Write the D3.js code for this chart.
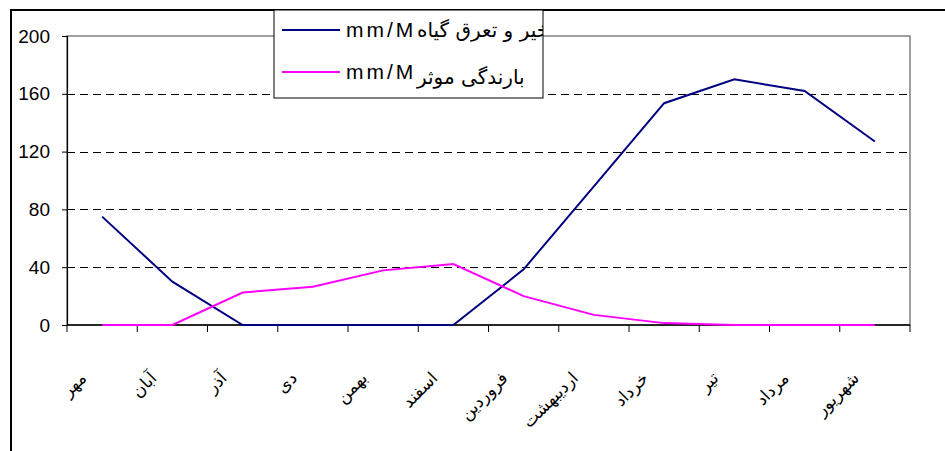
<!DOCTYPE html>
<html>
<head>
<meta charset="utf-8">
<script src="https://cdn.jsdelivr.net/npm/d3@7"></script>
<style>
  body { margin: 0; background: #fff; }
  svg { display: block; font-family: "Liberation Sans", Arial, sans-serif; }
</style>
</head>
<body>
<svg id="chart" width="945" height="451"></svg>
<script>
// Persian months (Mehr .. Shahrivar)
const months = ['مهر', 'آبان', 'آذر', 'دی', 'بهمن', 'اسفند', 'فروردین', 'اردیبهشت', 'خرداد', 'تیر', 'مرداد', 'شهریور'];

// crop evapotranspiration, mm/M
const evapo = [75, 30, 0, 0, 0, 0, 38.5, 96, 153.5, 170, 162, 127];
// effective rainfall, mm/M
const rainfall = [0, 0, 22.5, 26.5, 37.8, 42.2, 20, 7, 1.3, 0, 0, 0];

const yTicks = [0, 40, 80, 120, 160, 200];

const series = [
    { name: 'تبخیر و تعرق گیاه', values: evapo, color: '#000080' },
    { name: 'بارندگی موثر', values: rainfall, color: '#ff00ff' }
];

const svg = d3.select('#chart');
const plot = { left: 67, right: 910, top: 36, bottom: 325 };

const x = d3.scaleBand()
    .domain(months)
    .range([plot.left, plot.right]);

const y = d3.scaleLinear()
    .domain([0, 200])
    .range([plot.bottom, plot.top]);

// outer chart frame
svg.append('path')
    .attr('d', `M11,452 L11,10 L946,10`)
    .attr('fill', 'none')
    .attr('stroke', '#000')
    .attr('stroke-width', 2);

// plot area border (gray)
svg.append('rect')
    .attr('x', plot.left)
    .attr('y', plot.top)
    .attr('width', plot.right - plot.left)
    .attr('height', plot.bottom - plot.top)
    .attr('fill', 'none')
    .attr('stroke', '#808080')
    .attr('stroke-width', 1.5);

// dashed gridlines
svg.append('g')
    .selectAll('line')
    .data(yTicks.filter(d => d > 0 && d < 200))
    .join('line')
    .attr('x1', plot.left)
    .attr('x2', plot.right)
    .attr('y1', d => Math.round(y(d)) + 0.5)
    .attr('y2', d => Math.round(y(d)) + 0.5)
    .attr('stroke', '#000')
    .attr('stroke-dasharray', '8,5');

// y axis
const yAxis = svg.append('g')
    .attr('transform', `translate(${plot.left},0)`)
    .call(d3.axisLeft(y).tickValues(yTicks).tickSize(5).tickPadding(12));
yAxis.select('.domain').attr('stroke', '#000').attr('stroke-width', 1.2);
yAxis.selectAll('.tick line').attr('stroke', '#000');
yAxis.selectAll('.tick text')
    .attr('font-size', 19)
    .attr('font-family', '"Liberation Sans", Arial, sans-serif')
    .attr('fill', '#000');

// x axis (ticks between categories)
const xAxisG = svg.append('g');
xAxisG.append('line')
    .attr('x1', plot.left)
    .attr('x2', plot.right)
    .attr('y1', plot.bottom)
    .attr('y2', plot.bottom)
    .attr('stroke', '#000')
    .attr('stroke-width', 1.5);
xAxisG.selectAll('.xtick')
    .data(months.concat(['end']))
    .join('line')
    .attr('class', 'xtick')
    .attr('x1', (d, i) => plot.left + i * x.bandwidth())
    .attr('x2', (d, i) => plot.left + i * x.bandwidth())
    .attr('y1', plot.bottom)
    .attr('y2', plot.bottom + 7)
    .attr('stroke', '#000');

xAxisG.selectAll('.xlabel')
    .data(months)
    .join('text')
    .attr('class', 'xlabel')
    .attr('transform', d => {
        const cx = x(d) + x.bandwidth() / 2 - 19;
        return `translate(${cx},${375}) rotate(-45)`;
    })
    .attr('text-anchor', 'end')
    .attr('dy', '0.35em')
    .attr('font-size', 17)
    .attr('font-family', '"DejaVu Sans", sans-serif')
    .text(d => d);

// lines
const line = d3.line()
    .x((d, i) => x(months[i]) + x.bandwidth() / 2)
    .y(d => y(d));

svg.append('g')
    .selectAll('path')
    .data(series)
    .join('path')
    .attr('d', d => line(d.values))
    .attr('fill', 'none')
    .attr('stroke', d => d.color)
    .attr('stroke-width', 2);

// legend
const legend = { x: 274, y: 10, w: 269, h: 88 };
svg.append('clipPath')
    .attr('id', 'legend-clip')
    .append('rect')
    .attr('x', legend.x)
    .attr('y', legend.y)
    .attr('width', legend.w)
    .attr('height', legend.h);

const lg = svg.append('g');
lg.append('rect')
    .attr('x', legend.x)
    .attr('y', legend.y)
    .attr('width', legend.w)
    .attr('height', legend.h)
    .attr('fill', '#fff')
    .attr('stroke', '#000')
    .attr('stroke-width', 1);

const itemsWrap = lg.append('g').attr('clip-path', 'url(#legend-clip)');
const items = itemsWrap.selectAll('.item')
    .data(series)
    .join('g')
    .attr('class', 'item')
    .attr('transform', (d, i) => `translate(0,${30 + i * 42})`);

items.append('line')
    .attr('x1', 282)
    .attr('x2', 340)
    .attr('stroke', d => d.color)
    .attr('stroke-width', 2);

items.append('text')
    .attr('x', 346)
    .attr('y', 7)
    .attr('font-size', 21)
    .attr('letter-spacing', 3)
    .text('mm/M');

items.append('text')
    .attr('x', 417)
    .attr('y', (d, i) => i === 0 ? 7 : 12)
    .attr('font-size', 20)
    .attr('font-family', '"DejaVu Sans", sans-serif')
    .text(d => d.name);
</script>
</body>
</html>
